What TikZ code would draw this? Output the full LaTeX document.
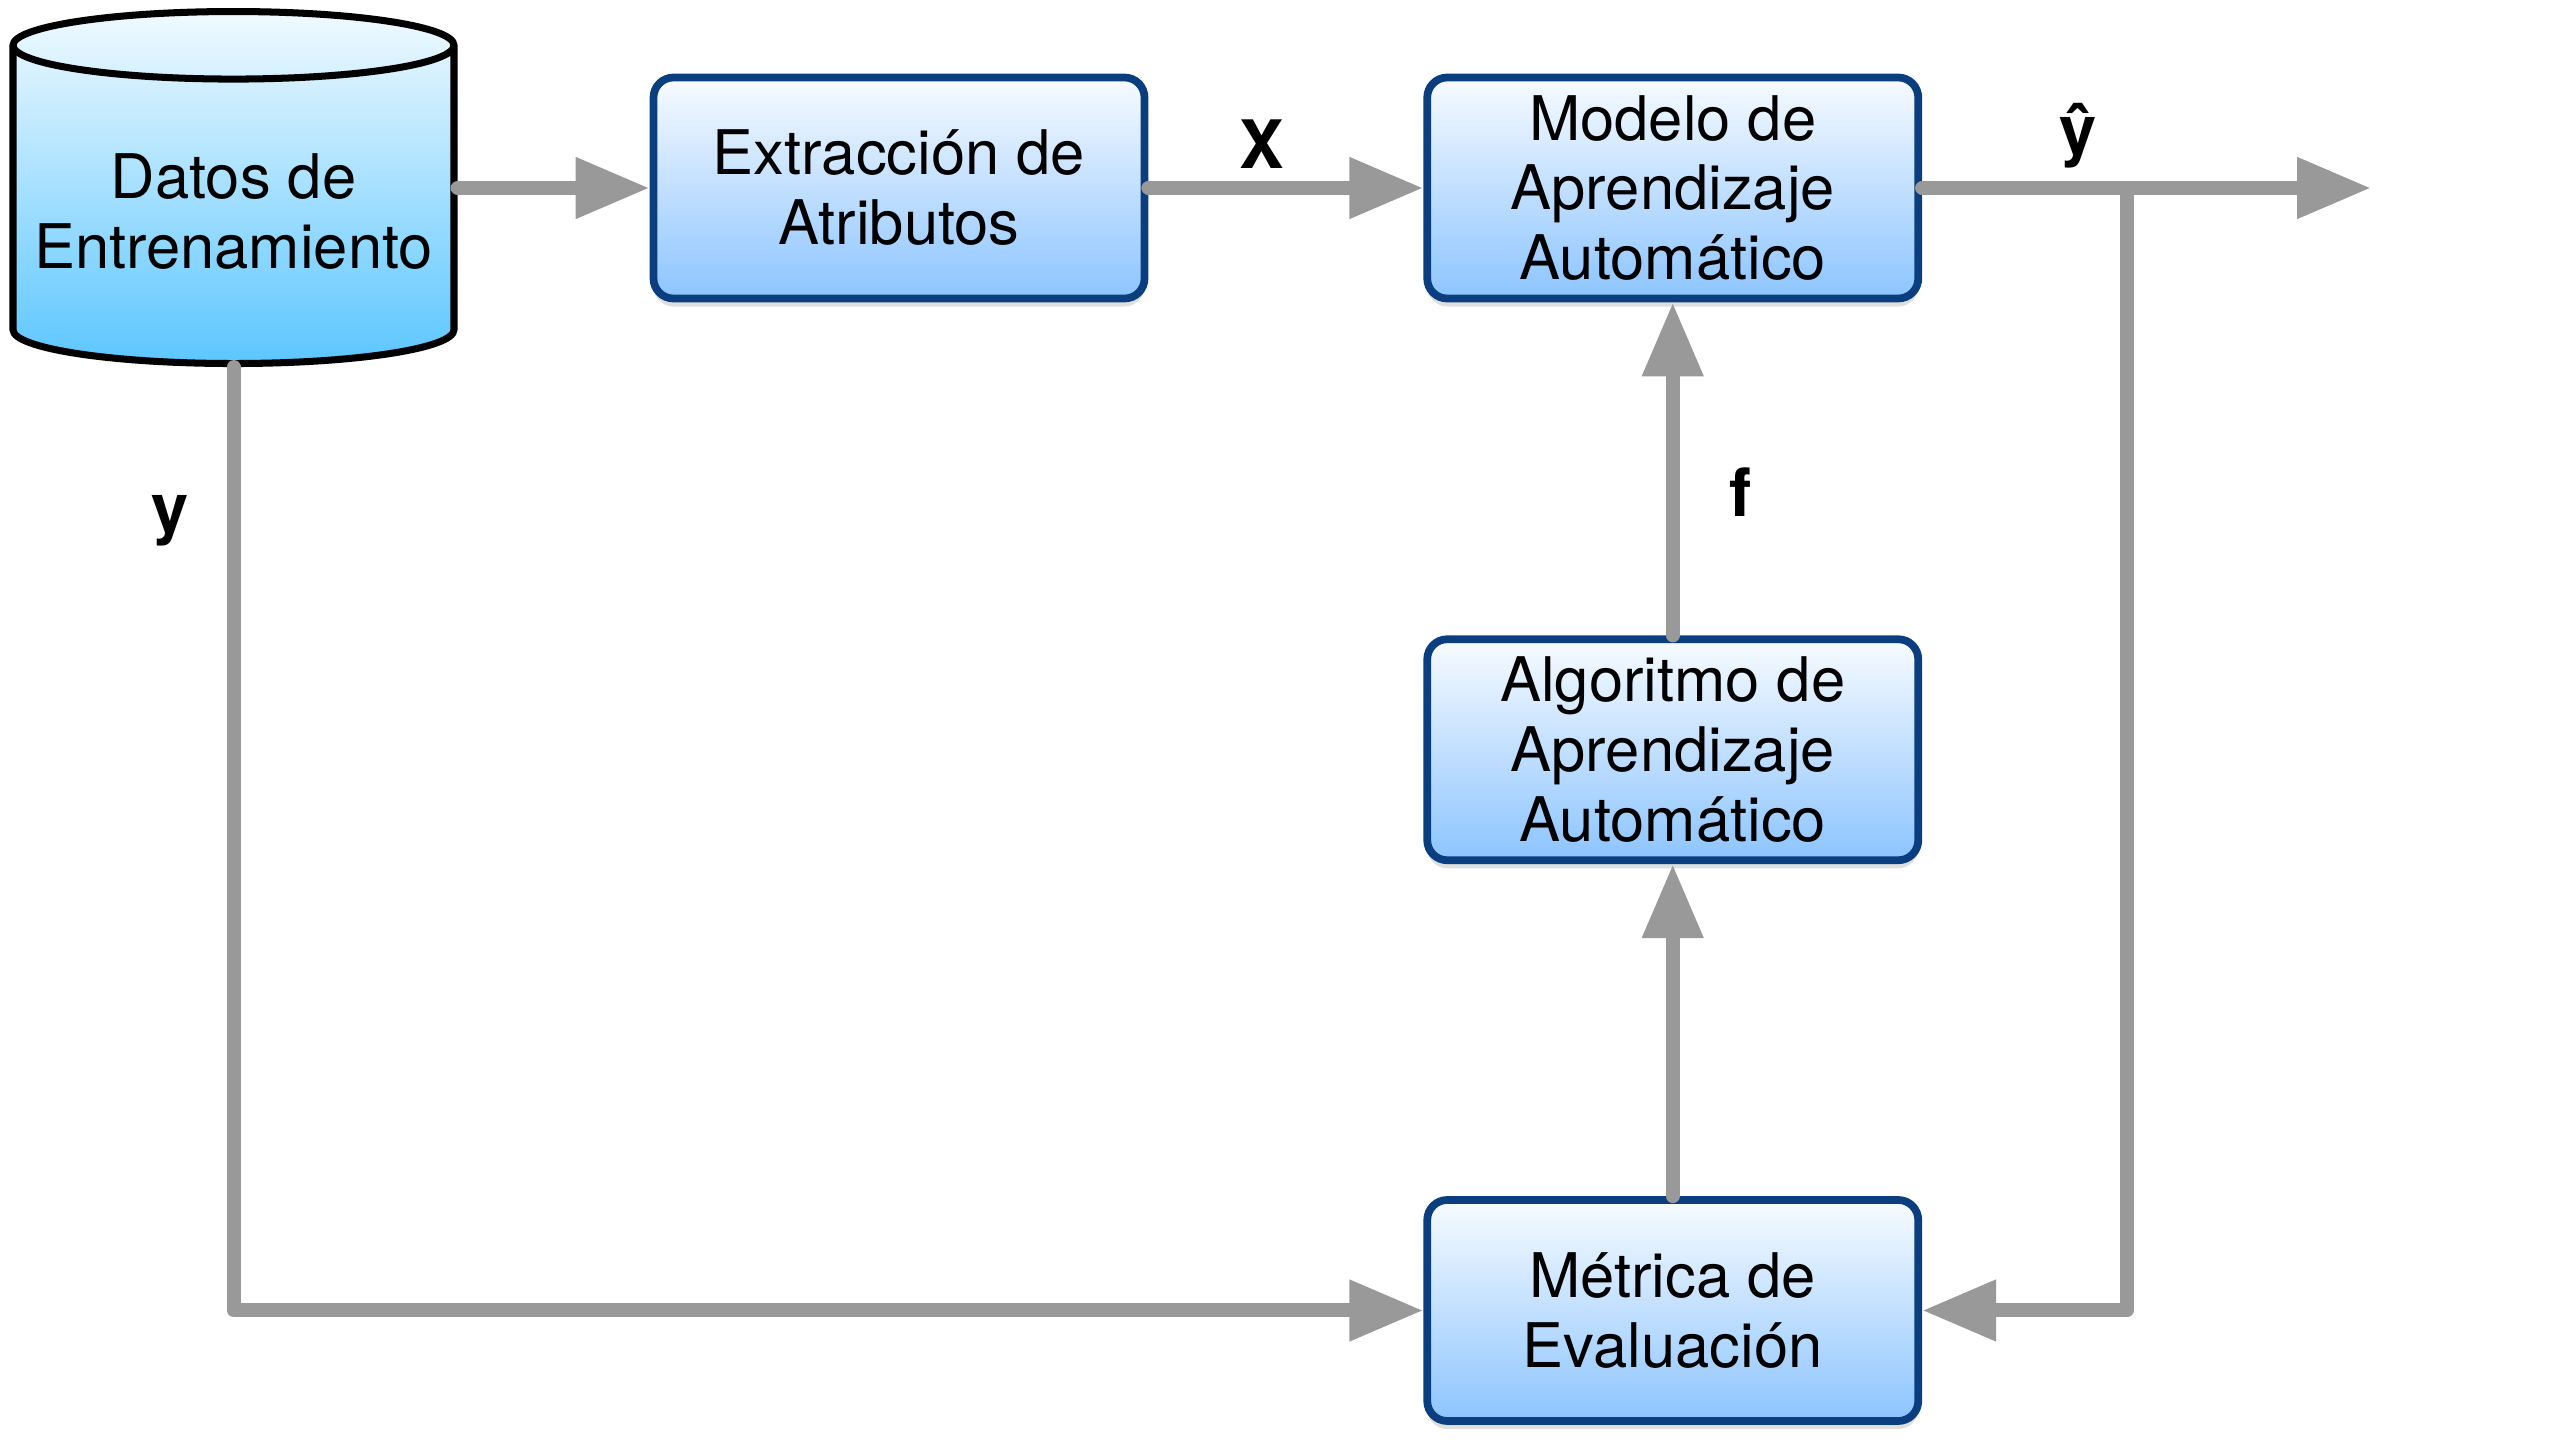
\documentclass[tikz,border=0pt]{standalone}
\usepackage{fontspec}
\setmainfont{TeX Gyre Heros}
\usetikzlibrary{shapes.geometric, arrows.meta, positioning, shadows}
\definecolor{bordeazul}{RGB}{10,62,126}
\definecolor{azularriba}{RGB}{247,251,255}
\definecolor{azulabajo}{RGB}{140,196,255}
\definecolor{cianarriba}{RGB}{240,250,255}
\definecolor{cianabajo}{RGB}{92,198,255}
\definecolor{gris}{RGB}{153,153,153}
\tikzstyle{bloque}   = [rectangle, rounded corners=0.2cm, minimum width=4.91cm, minimum height=2.21cm,
                        text centered, align=center, draw=bordeazul, line width=2.2pt,
                        top color=azularriba, bottom color=azulabajo,
                        drop shadow={opacity=0.25, shadow xshift=0pt, shadow yshift=-0.08cm},
                        font=\fontsize{17.5}{19.9}\selectfont]
\tikzstyle{base}     = [cylinder, shape border rotate=90, aspect=0.16, minimum width=4.41cm,
                        minimum height=3.52cm, text centered, align=center, draw=black, line width=2pt,
                        top color=cianarriba, bottom color=cianabajo,
                        font=\fontsize{17.5}{19.9}\selectfont]
\tikzstyle{flecha}   = [-{Triangle[length=0.74cm, width=0.58cm]}, line width=0.14cm, draw=gris,
                        line cap=round, line join=round]
\tikzstyle{etiqueta} = [font=\fontsize{19}{22}\selectfont\bfseries]

\begin{document}
\begin{tikzpicture}
    \useasboundingbox (0,0) rectangle (25.70,-14.43);

    % Fila superior
    \node (datos) [base, anchor=north] at (2.335,-0.08) {Datos de\\Entrenamiento};
    \node (extr) [bloque] at (8.99,-1.88) {Extracción de\\Atributos};
    \node (modelo) [bloque, right=2.75cm of extr] {Modelo de\\Aprendizaje\\Automático};

    % Columna derecha
    \node (algo) [bloque, below=3.33cm of modelo] {Algoritmo de\\Aprendizaje\\Automático};
    \node (metrica) [bloque, below=3.32cm of algo] {Métrica de\\Evaluación};

    % Puntos libres
    \coordinate [right=4.49cm of modelo.east] (salida);
    \coordinate [right=2.05cm of modelo.east] (rama);

    % Flechas
    \draw[flecha] (datos.east |- extr.west) -- (extr.west);
    \draw[flecha] (extr.east) -- (modelo.west);
    \draw[flecha] (modelo.east) -- (salida);
    \draw[flecha] (rama) |- (metrica.east);
    \draw[flecha] (algo.north) -- (modelo.south);
    \draw[flecha] (metrica.north) -- (algo.south);
    \draw[flecha] (datos.south) |- (metrica.west);

    % Etiquetas
    \node (lx) [etiqueta] at (12.62,-1.44) {X};
    \node (lyhat) [etiqueta] at (20.78,-1.36) {ŷ};
    \node (lf) [etiqueta] at (17.41,-4.92) {f};
    \node (ly) [etiqueta] at (1.70,-5.21) {y};
\end{tikzpicture}
\end{document}
